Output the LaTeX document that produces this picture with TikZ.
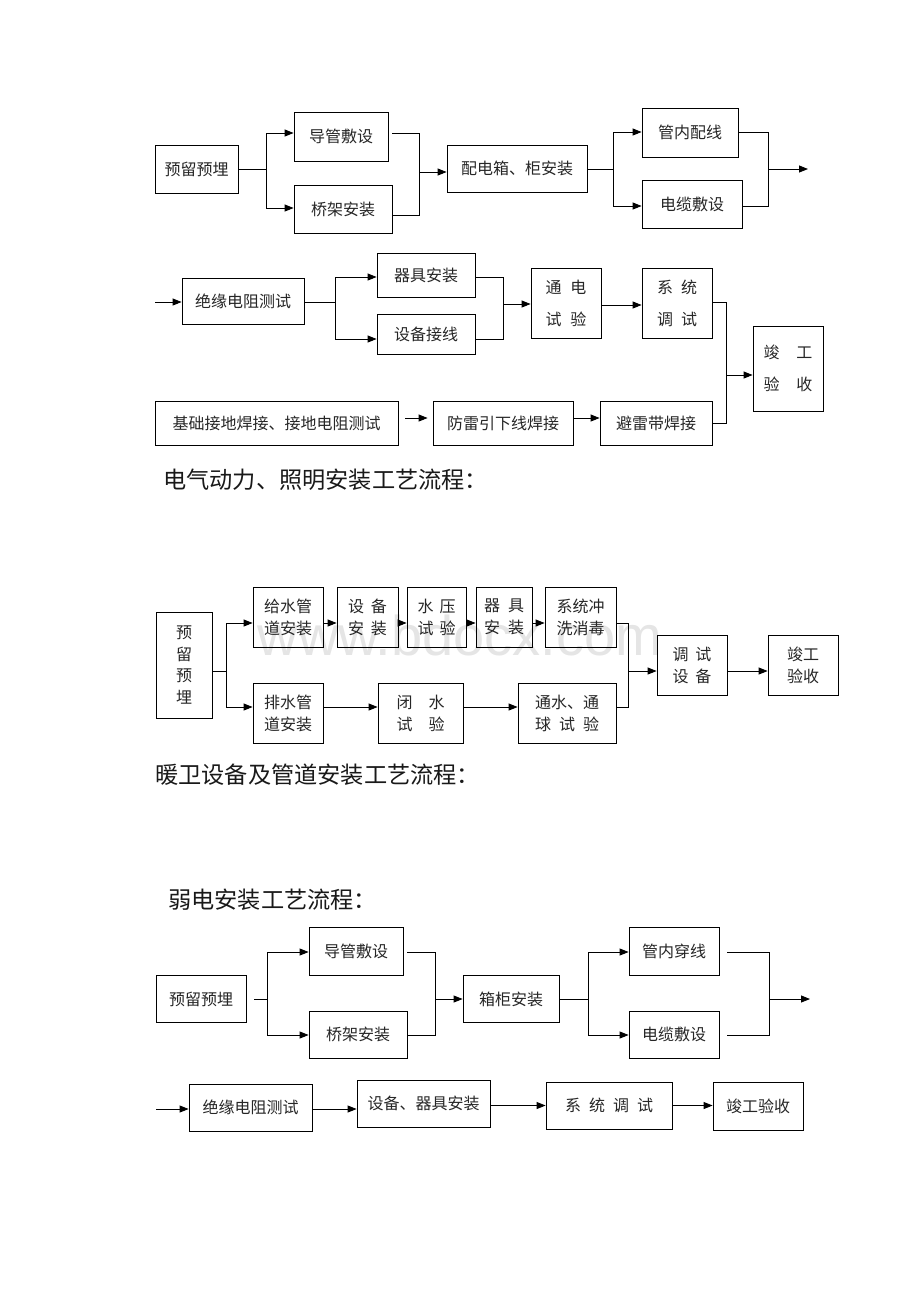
\documentclass[tikz,border=0pt]{standalone}
\usepackage{fontspec}
\setmainfont{Liberation Sans}
\newfontfamily\cjk{Noto Sans CJK SC}
\usetikzlibrary{arrows.meta,calc}
\begin{document}
\begin{tikzpicture}[x=1pt,y=-1pt,
  box/.style={draw, line width=0.8pt, inner sep=0pt, align=center,
    font=\cjk\fontsize{16}{22}\selectfont, text=black!85},
  ln/.style={line width=0.9pt},
  arr/.style={line width=0.9pt, -{Triangle[length=9pt,width=7pt]}},
  ttl/.style={anchor=west, inner sep=0pt, font=\cjk\fontsize{23.2}{27}\selectfont, text=black!90}]
\useasboundingbox[fill=white] (0,0) rectangle (920,1302);

% watermark
\node[font=\fontsize{56}{60}\selectfont, text=black!10, anchor=base, inner sep=0pt] (wm) at (460,655) {www.bdocx.com};

% ---------- Section A ----------
\node[box,minimum width=83pt,minimum height=48pt] (a1) at (196.5,169) {预留预埋};
\node[box,minimum width=94pt,minimum height=49pt] (a2) at (341,136.5) {导管敷设};
\node[box,minimum width=98pt,minimum height=48pt] (a3) at (343,209) {桥架安装};
\node[box,minimum width=140pt,minimum height=47pt] (a4) at (517,168.5) {配电箱、柜安装};
\node[box,minimum width=96pt,minimum height=49pt] (a5) at (690,132.5) {管内配线};
\node[box,minimum width=100pt,minimum height=48pt] (a6) at (692,204) {电缆敷设};
\coordinate (A1) at (266,169); \coordinate (A1t) at (266,133); \coordinate (A1b) at (266,208);
\draw[ln] (a1.east) -- (A1);
\draw[ln] (A1t) -- (A1b);
\draw[arr] (A1t) -- (A1t -| a2.west);
\draw[arr] (A1b) -- (A1b -| a3.west);
\coordinate (A2) at (419,172); \coordinate (A2t) at (419,133); \coordinate (A2b) at (419,215);
\draw[ln] (A2t -| a3.east) -- (A2t) -- (A2b) -- (A2b -| a3.east);
\draw[arr] (A2) -- (A2 -| a4.west);
\coordinate (A3) at (613,169); \coordinate (A3t) at (613,132); \coordinate (A3b) at (613,206);
\draw[ln] (A3 -| a4.east) -- (A3);
\draw[ln] (A3t) -- (A3b);
\draw[arr] (A3t) -- (A3t -| a5.west);
\draw[arr] (A3b) -- (A3b -| a6.west);
\coordinate (A4) at (768,169); \coordinate (A4t) at (768,132); \coordinate (A4b) at (768,206);
\coordinate (A4e) at (808,169);
\draw[ln] (A4t -| a5.east) -- (A4t) -- (A4b) -- (A4b -| a6.east);
\draw[arr] (A4) -- (A4e);

% ---------- Section B ----------
\coordinate (B0) at (155,302);
\node[box,minimum width=122pt,minimum height=46pt] (b1) at (243,301) {绝缘电阻测试};
\draw[arr] (B0) -- (B0 -| b1.west);
\node[box,minimum width=98pt,minimum height=44pt] (b2) at (426,275) {器具安装};
\node[box,minimum width=98pt,minimum height=40pt] (b3) at (426,334) {设备接线};
\coordinate (B1) at (335,302); \coordinate (B1t) at (335,277); \coordinate (B1b) at (335,339);
\draw[ln] (B1 -| b1.east) -- (B1);
\draw[ln] (B1t) -- (B1b);
\draw[arr] (B1t) -- (B1t -| b2.west);
\draw[arr] (B1b) -- (B1b -| b3.west);
\coordinate (B2) at (503,304); \coordinate (B2t) at (503,277); \coordinate (B2b) at (503,339);
\draw[ln] (B2t -| b2.east) -- (B2t) -- (B2b) -- (B2b -| b3.east);
\node[box,minimum width=70pt,minimum height=70pt] (b4) at (566,303) {通\hspace{9pt}电\\[10pt]试\hspace{9pt}验};
\node[box,minimum width=70pt,minimum height=70pt] (b5) at (677,303) {系\hspace{8pt}统\\[10pt]调\hspace{8pt}试};
\node[box,minimum width=70pt,minimum height=85pt] (b6) at (788,368.5) {竣\hspace{17pt}工\\[10pt]验\hspace{17pt}收};
\draw[arr] (B2) -- (B2 -| b4.west);
\draw[arr] ([yshift=-2pt]b4.east) -- ([yshift=-2pt]b5.west);

% ---------- Section C ----------
\node[box,minimum width=243pt,minimum height=44pt] (c1) at (276.5,423) {基础接地焊接、接地电阻测试};
\node[box,minimum width=140pt,minimum height=44pt] (c2) at (503,423) {防雷引下线焊接};
\node[box,minimum width=112pt,minimum height=44pt] (c3) at (656,423) {避雷带焊接};
\draw[arr] ([xshift=7pt,yshift=5pt]c1.east) -- ([xshift=-5pt,yshift=5pt]c2.west);
\draw[arr] ([yshift=5pt]c2.east) -- ([yshift=5pt]c3.west);
\coordinate (B3) at (726,375); \coordinate (B3t) at (726,302); \coordinate (B3b) at (726,423);
\draw[ln] (B3t -| b5.east) -- (B3t) -- (B3b) -- (B3b -| c3.east);
\draw[arr] (B3) -- (B3 -| b6.west);

\node[ttl] (t1) at (163,480) {电气动力、照明安装工艺流程：};

% ---------- Section D ----------
\node[box,minimum width=56pt,minimum height=106pt,font=\cjk\fontsize{16}{21.5}\selectfont] (d1) at (184,665) {预\\留\\预\\埋};
\node[box,minimum width=70pt,minimum height=60pt] (d2) at (288,617) {给水管\\道安装};
\node[box,minimum width=61pt,minimum height=60pt] (d3) at (367.5,617) {设\hspace{7pt}备\\安\hspace{7pt}装};
\node[box,minimum width=59pt,minimum height=60pt] (d4) at (436.5,617) {水\hspace{6pt}压\\试\hspace{6pt}验};
\node[box,minimum width=56pt,minimum height=60pt] (d5) at (504,617) {器\hspace{8pt}具\\安\hspace{8pt}装};
\node[box,minimum width=71pt,minimum height=60pt] (d6) at (580.5,617) {系统冲\\洗消毒};
\node[box,minimum width=70pt,minimum height=60pt] (d7) at (288,713) {排水管\\道安装};
\node[box,minimum width=85pt,minimum height=60pt] (d8) at (420.5,713) {闭\hspace{16pt}水\\试\hspace{16pt}验};
\node[box,minimum width=98pt,minimum height=60pt] (d9) at (567,713) {通水、通\\球\hspace{8pt}试\hspace{8pt}验};
\node[box,minimum width=70pt,minimum height=60pt] (d10) at (692,665) {调\hspace{7pt}试\\设\hspace{7pt}备};
\node[box,minimum width=70pt,minimum height=60pt] (d11) at (803,665) {竣工\\验收};
\coordinate (D1) at (226,671); \coordinate (D1t) at (226,623); \coordinate (D1b) at (226,707);
\draw[ln] (D1 -| d1.east) -- (D1);
\draw[ln] (D1t) -- (D1b);
\draw[arr] (D1t) -- (D1t -| d2.west);
\draw[arr] (D1b) -- (D1b -| d7.west);
\draw[arr] ([yshift=-6pt]d2.east) -- ([yshift=-6pt]d3.west);
\draw[arr] ([yshift=-6pt]d3.east) -- ([yshift=-6pt]d4.west);
\draw[arr] ([yshift=-6pt]d4.east) -- ([yshift=-6pt]d5.west);
\draw[arr] ([yshift=-6pt]d5.east) -- ([yshift=-6pt]d6.west);
\draw[arr] ([yshift=6pt]d7.east) -- ([yshift=6pt]d8.west);
\draw[arr] ([yshift=6pt]d8.east) -- ([yshift=6pt]d9.west);
\coordinate (D2) at (628,671); \coordinate (D2t) at (628,623); \coordinate (D2b) at (628,707);
\draw[ln] (D2t -| d6.east) -- (D2t) -- (D2b) -- (D2b -| d9.east);
\draw[arr] (D2) -- (D2 -| d10.west);
\draw[arr] ([yshift=-6pt]d10.east) -- ([yshift=-6pt]d11.west);

\node[ttl] (t2) at (155,775) {暖卫设备及管道安装工艺流程：};
\node[ttl] (t3) at (168,900) {弱电安装工艺流程：};

% ---------- Section E ----------
\node[box,minimum width=90pt,minimum height=47pt] (e1) at (201,999) {预留预埋};
\node[box,minimum width=94pt,minimum height=48pt] (e2) at (356,951) {导管敷设};
\node[box,minimum width=98pt,minimum height=47pt] (e3) at (358,1034.5) {桥架安装};
\node[box,minimum width=96pt,minimum height=47pt] (e4) at (511,999) {箱柜安装};
\node[box,minimum width=90pt,minimum height=48pt] (e5) at (674,951) {管内穿线};
\node[box,minimum width=90pt,minimum height=47pt] (e6) at (674,1034.5) {电缆敷设};
\coordinate (E1) at (267,999); \coordinate (E1t) at (267,952); \coordinate (E1b) at (267,1035);
\draw[ln] ([xshift=8pt]e1.east) -- (E1);
\draw[ln] (E1t) -- (E1b);
\draw[arr] (E1t) -- (E1t -| e2.west);
\draw[arr] (E1b) -- (E1b -| e3.west);
\coordinate (E2) at (435,999); \coordinate (E2t) at (435,952); \coordinate (E2b) at (435,1035);
\draw[ln] (E2t -| e3.east) -- (E2t) -- (E2b) -- (E2b -| e3.east);
\draw[arr] (E2) -- (E2 -| e4.west);
\coordinate (E3) at (588,999); \coordinate (E3t) at (588,952); \coordinate (E3b) at (588,1035);
\draw[ln] (E3 -| e4.east) -- (E3);
\draw[ln] (E3t) -- (E3b);
\draw[arr] (E3t) -- (E3t -| e5.west);
\draw[arr] (E3b) -- (E3b -| e6.west);
\coordinate (E4) at (769,999); \coordinate (E4t) at (769,952); \coordinate (E4b) at (769,1035);
\coordinate (E4e) at (810,999);
\draw[ln] ($(E4t -| e5.east)+(8,0)$) -- (E4t) -- (E4b) -- ($(E4b -| e6.east)+(8,0)$);
\draw[arr] (E4) -- (E4e);

% ---------- Section F ----------
\coordinate (F0) at (156,1109);
\node[box,minimum width=123pt,minimum height=47pt] (f1) at (250.5,1107.5) {绝缘电阻测试};
\node[box,minimum width=133pt,minimum height=47pt] (f2) at (423.5,1103.5) {设备、器具安装};
\node[box,minimum width=126pt,minimum height=47pt] (f3) at (609,1105.5) {系\hspace{8pt}统\hspace{8pt}调\hspace{8pt}试};
\node[box,minimum width=90pt,minimum height=48pt] (f4) at (758,1106) {竣工验收};
\draw[arr] (F0) -- (F0 -| f1.west);
\draw[arr] (f1.east |- F0) -- (f2.west |- F0);
\draw[arr] (f2.east |- f3.west) -- (f3.west);
\draw[arr] (f3.east) -- (f3.east -| f4.west);
\end{tikzpicture}
\end{document}
